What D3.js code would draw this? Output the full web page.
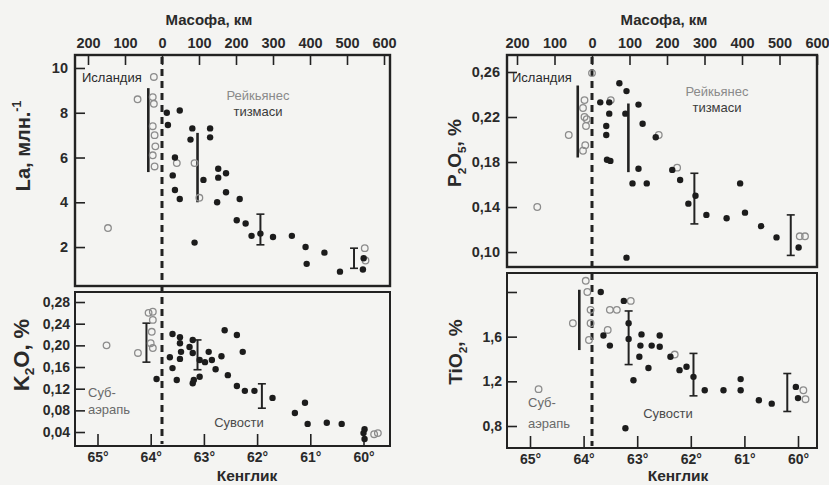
<!DOCTYPE html>
<html><head><meta charset="utf-8">
<script src="https://cdn.jsdelivr.net/npm/d3@7"></script>
<style>body{margin:0;background:#f4f4f2}svg{display:block}</style>
</head><body><svg id="c" width="829" height="485"></svg>
<script>
// ---------- DATA ----------
const distTicks = [-200,-100,0,100,200,300,400,500,600];
const latTicks = [65,64,63,62,61,60];
const laTicks = [2,4,6,8,10];
const k2oTicks = [0.04,0.08,0.12,0.16,0.20,0.24,0.28];
const p2oTicks = [0.10,0.14,0.18,0.22,0.26];
const tioTicks = [0.8,1.2,1.6,2.0];

// La (ppm) vs distance (km)
const laFilled = [[13,8.0],[48,8.1],[16,7.45],[35,6.0],[29,5.2],[35,4.55],[48,4.15],[82,7.3],[77,6.8],[130,7.3],[130,6.9],[112,5.0],[88,2.2],[152,5.5],[173,5.3],[152,5.1],[173,4.45],[149,4.0],[210,4.15],[202,3.2],[226,3.05],[242,2.5],[266,2.6],[300,2.45],[351,2.5],[388,2.0],[391,1.25],[439,1.75],[481,0.9],[543,1.0],[545,1.5]];
const laOpen = [[-146,2.85],[-66,8.6],[-25,8.7],[-22,8.4],[-25,7.4],[-20,7.0],[-18,6.5],[-25,6.1],[-20,5.6],[-22,9.6],[40,5.75],[88,5.75],[101,4.2],[548,1.95],[550,1.4]];
const laBars = [[-37,5.35,9.1,false],[96,4.0,7.1,false],[266,2.1,3.47,true],[519,1.05,1.95,true]];

// K2O (%) vs latitude
const k2oFilled = [[63.89,0.138],[63.59,0.221],[63.64,0.178],[63.59,0.158],[63.51,0.136],[63.45,0.215],[63.45,0.204],[63.43,0.188],[63.45,0.175],[63.21,0.21],[63.27,0.197],[63.21,0.186],[63.21,0.13],[63.19,0.136],[63.08,0.142],[63.08,0.173],[62.98,0.169],[62.91,0.188],[62.85,0.173],[62.78,0.156],[62.67,0.18],[62.61,0.228],[62.55,0.145],[62.38,0.219],[62.27,0.188],[62.38,0.125],[62.23,0.116],[62.05,0.116],[61.71,0.103],[61.29,0.075],[61.1,0.094],[61.05,0.055],[60.69,0.057],[60.41,0.055],[60.0,0.038],[59.98,0.027],[59.98,0.045]];
const k2oOpen = [[64.83,0.20],[64.24,0.186],[64.04,0.26],[63.96,0.262],[63.96,0.247],[63.98,0.225],[64.0,0.204],[63.96,0.195],[59.8,0.036],[59.73,0.038]];
const k2oBars = [[64.08,0.169,0.241,true],[63.12,0.155,0.21,true],[61.91,0.084,0.129,true]];

// P2O5 (%) vs distance (km)
const p2oFilled = [[73,0.25],[92,0.243],[22,0.233],[46,0.233],[46,0.223],[38,0.212],[38,0.204],[40,0.182],[49,0.181],[89,0.223],[124,0.231],[135,0.214],[170,0.202],[124,0.174],[108,0.161],[146,0.161],[214,0.173],[235,0.164],[257,0.143],[276,0.15],[305,0.133],[359,0.13],[395,0.161],[408,0.135],[451,0.123],[492,0.113],[551,0.104],[92,0.095]];
const p2oOpen = [[-146,0.14],[-62,0.204],[-24,0.228],[-20,0.22],[-14,0.218],[-24,0.19],[-18,0.195],[-16,0.212],[-20,0.235],[0,0.259],[50,0.235],[178,0.204],[227,0.175],[554,0.114],[568,0.114]];
const p2oBars = [[-38,0.184,0.248,false],[97,0.171,0.232,false],[273,0.125,0.17,true],[530,0.097,0.133,true]];

// TiO2 (%) vs latitude
const tioFilled = [[63.68,2.0],[63.63,1.61],[63.51,1.52],[63.25,1.92],[63.16,1.72],[63.16,1.58],[63.07,1.21],[63.22,0.78],[62.92,1.62],[62.94,1.52],[62.96,1.42],[62.79,1.32],[62.73,1.52],[62.58,1.61],[62.58,1.51],[62.38,1.42],[62.21,1.30],[62.08,1.33],[61.95,1.24],[61.74,1.12],[61.39,1.12],[61.07,1.22],[61.07,1.12],[60.73,1.03],[60.49,1.0],[60.04,1.15],[60.0,1.05]];
const tioOpen = [[64.84,1.13],[64.2,1.72],[63.96,2.1],[63.93,2.0],[63.87,1.84],[63.87,1.72],[63.9,1.57],[63.55,1.66],[63.51,1.84],[63.38,1.84],[63.12,1.92],[62.3,1.44],[59.9,1.12],[59.86,1.04]];
const tioBars = [[64.08,1.48,2.02,false],[63.16,1.35,1.83,true],[61.95,1.07,1.45,true],[60.2,0.93,1.27,true]];

// ---------- DRAW ----------
const svg = d3.select("#c");
svg.append("rect").attr("width",829).attr("height",485).attr("fill","#f4f4f2");
const INK = "#222";
const FONT = "'Liberation Sans', Arial, sans-serif";

const comma = f => d => d3.format(f)(d).replace(".", ",");

const sides = [
  {x0:75, x1:390, top:55, mid1:286, mid2:292, bottom:446,
   dist:[ -200,600,88,384], lat:[65,60,97.5,363.5],
   topDom:[0.26,10.58], topTicks:laTicks, topFmt:d=>d,
   botDom:[0.0142,0.2985], botTicks:k2oTicks, botFmt:comma(".2f"),
   filledT:laFilled, openT:laOpen, barsT:laBars,
   filledB:k2oFilled, openB:k2oOpen, barsB:k2oBars,
   titleX:209, kenX:247,
   yTitleTop:{x:25,y:146,size:20,parts:[["La, млн.",""],["-1","sup"]]},
   yTitleBot:{x:23,y:355,size:22,parts:[["K",""],["2","sub"],["O, %",""]]},
   isl:{x:82,y:82}, reyk:{x:258,y:100}, sub:{x:88,y:397,y2:414}, suv:{x:239,y:427}},
  {x0:507, x1:817, top:55, mid1:267, mid2:273, bottom:448,
   dist:[-200,600,517,817], lat:[65,60,530,798],
   topDom:[0.0867,0.2751], topTicks:p2oTicks, topFmt:comma(".2f"),
   botDom:[0.603,2.170], botTicks:tioTicks, botFmt:d=> d===2 ? "" : comma(".1f")(d),
   filledT:p2oFilled, openT:p2oOpen, barsT:p2oBars,
   filledB:tioFilled, openB:tioOpen, barsB:tioBars,
   titleX:664, kenX:678,
   yTitleTop:{x:456,y:153,size:19,parts:[["P",""],["2","sub"],["O",""],["5","sub"],[", %",""]]},
   yTitleBot:{x:457,y:352,size:19,parts:[["TiO",""],["2","sub"],[", %",""]]},
   isl:{x:512,y:82}, reyk:{x:717,y:96}, sub:{x:528,y:407,y2:428}, suv:{x:668,y:418}}
];

sides.forEach(s => {
  const g = svg.append("g");
  const xD = d3.scaleLinear().domain([s.dist[0], s.dist[1]]).range([s.dist[2], s.dist[3]]);
  const xL = d3.scaleLinear().domain([s.lat[0], s.lat[1]]).range([s.lat[2], s.lat[3]]);
  const yT = d3.scaleLinear().domain(s.topDom).range([s.mid1, s.top]);
  const yB = d3.scaleLinear().domain(s.botDom).range([s.bottom, s.mid2]);

  // frames
  g.append("rect").attr("x",s.x0).attr("y",s.top).attr("width",s.x1-s.x0).attr("height",s.mid1-s.top)
    .attr("fill","none").attr("stroke",INK).attr("stroke-width",2.4);
  g.append("rect").attr("x",s.x0).attr("y",s.mid2).attr("width",s.x1-s.x0).attr("height",s.bottom-s.mid2)
    .attr("fill","none").attr("stroke",INK).attr("stroke-width",2);

  const styleAxis = (ax, size) => {
    ax.select(".domain").remove();
    ax.selectAll(".tick line").attr("stroke",INK).attr("stroke-width",1.6);
    ax.selectAll(".tick text").attr("font-family",FONT).attr("font-weight","bold")
      .attr("font-size",size).attr("fill","#2a2a2a");
  };

  // top distance axis
  const axT = g.append("g").attr("transform",`translate(0,${s.top})`)
    .call(d3.axisTop(xD).tickValues(distTicks).tickSizeInner(-10).tickSizeOuter(0).tickPadding(7)
      .tickFormat(d=>Math.abs(d)));
  styleAxis(axT, 14.5);
  // bottom latitude axis
  const axB = g.append("g").attr("transform",`translate(0,${s.bottom})`)
    .call(d3.axisBottom(xL).tickValues(latTicks).tickSizeInner(-12).tickSizeOuter(0).tickPadding(6)
      .tickFormat(d=>d+"°"));
  styleAxis(axB, 14);
  // y axes
  const ayT = g.append("g").attr("transform",`translate(${s.x0},0)`)
    .call(d3.axisLeft(yT).tickValues(s.topTicks).tickSizeInner(-10).tickSizeOuter(0).tickPadding(7).tickFormat(s.topFmt));
  styleAxis(ayT, 14.5);
  const ayB = g.append("g").attr("transform",`translate(${s.x0},0)`)
    .call(d3.axisLeft(yB).tickValues(s.botTicks).tickSizeInner(-10).tickSizeOuter(0).tickPadding(5).tickFormat(s.botFmt));
  styleAxis(ayB, 14);

  // dashed zero-distance line
  g.append("line").attr("x1",xD(0)).attr("x2",xD(0)).attr("y1",s.top+2).attr("y2",s.bottom-2)
    .attr("stroke",INK).attr("stroke-width",3).attr("stroke-dasharray","7,5");

  const drawBars = (bars, x, y) => {
    bars.forEach(b => {
      const cx = x(b[0]);
      g.append("line").attr("x1",cx).attr("x2",cx).attr("y1",y(b[1])).attr("y2",y(b[2]))
        .attr("stroke",INK).attr("stroke-width",b[3]?2:2.6);
      if (b[3]) [b[1],b[2]].forEach(v => g.append("line").attr("x1",cx-4).attr("x2",cx+4)
        .attr("y1",y(v)).attr("y2",y(v)).attr("stroke",INK).attr("stroke-width",1.6));
    });
  };
  const drawPts = (filled, open, x, y) => {
    g.selectAll(null).data(open).join("circle").attr("cx",d=>x(d[0])).attr("cy",d=>y(d[1]))
      .attr("r",3.3).attr("fill","none").attr("stroke","#8c8c8c").attr("stroke-width",1.3);
    g.selectAll(null).data(filled).join("circle").attr("cx",d=>x(d[0])).attr("cy",d=>y(d[1]))
      .attr("r",3.2).attr("fill","#1c1c1c");
  };
  drawBars(s.barsT, xD, yT); drawPts(s.filledT, s.openT, xD, yT);
  drawBars(s.barsB, xL, yB); drawPts(s.filledB, s.openB, xL, yB);

  // titles
  const txt = (x,y,t,o={}) => g.append("text").attr("x",x).attr("y",y).text(t)
    .attr("font-family",FONT).attr("font-size",o.size||13).attr("font-weight",o.w||"normal")
    .attr("fill",o.fill||"#2a2a2a").attr("text-anchor",o.anchor||"start");
  txt(s.titleX, 25, "Масофа, км", {size:15,w:"bold",anchor:"middle"});
  txt(s.kenX, 481, "Кенглик", {size:15.5,w:"bold",anchor:"middle"});
  txt(s.isl.x, s.isl.y, "Исландия", {size:13});
  txt(s.reyk.x, s.reyk.y, "Рейкьянес", {size:13,anchor:"middle",fill:"#8a8a8a"});
  txt(s.reyk.x, s.reyk.y+16, "тизмаси", {size:13,anchor:"middle",fill:"#3a3a3a"});
  txt(s.sub.x, s.sub.y, "Суб-", {size:13,fill:"#6a6a6a"});
  txt(s.sub.x, s.sub.y2, "аэрапь", {size:13,fill:"#6a6a6a"});
  txt(s.suv.x, s.suv.y, "Сувости", {size:13,anchor:"middle",fill:"#4a4a4a"});

  [s.yTitleTop, s.yTitleBot].forEach(t => {
    const tt = g.append("text").attr("transform",`translate(${t.x},${t.y}) rotate(-90)`)
      .attr("text-anchor","middle").attr("dominant-baseline","middle")
      .attr("font-family",FONT).attr("font-weight","bold").attr("font-size",t.size).attr("fill","#2a2a2a");
    t.parts.forEach(p => {
      const sp = tt.append("tspan").text(p[0]);
      if (p[1]==="sub") sp.attr("baseline-shift","sub").attr("font-size",t.size*0.62);
      if (p[1]==="sup") sp.attr("baseline-shift","super").attr("font-size",t.size*0.62);
    });
  });
});
</script>
</body></html>
